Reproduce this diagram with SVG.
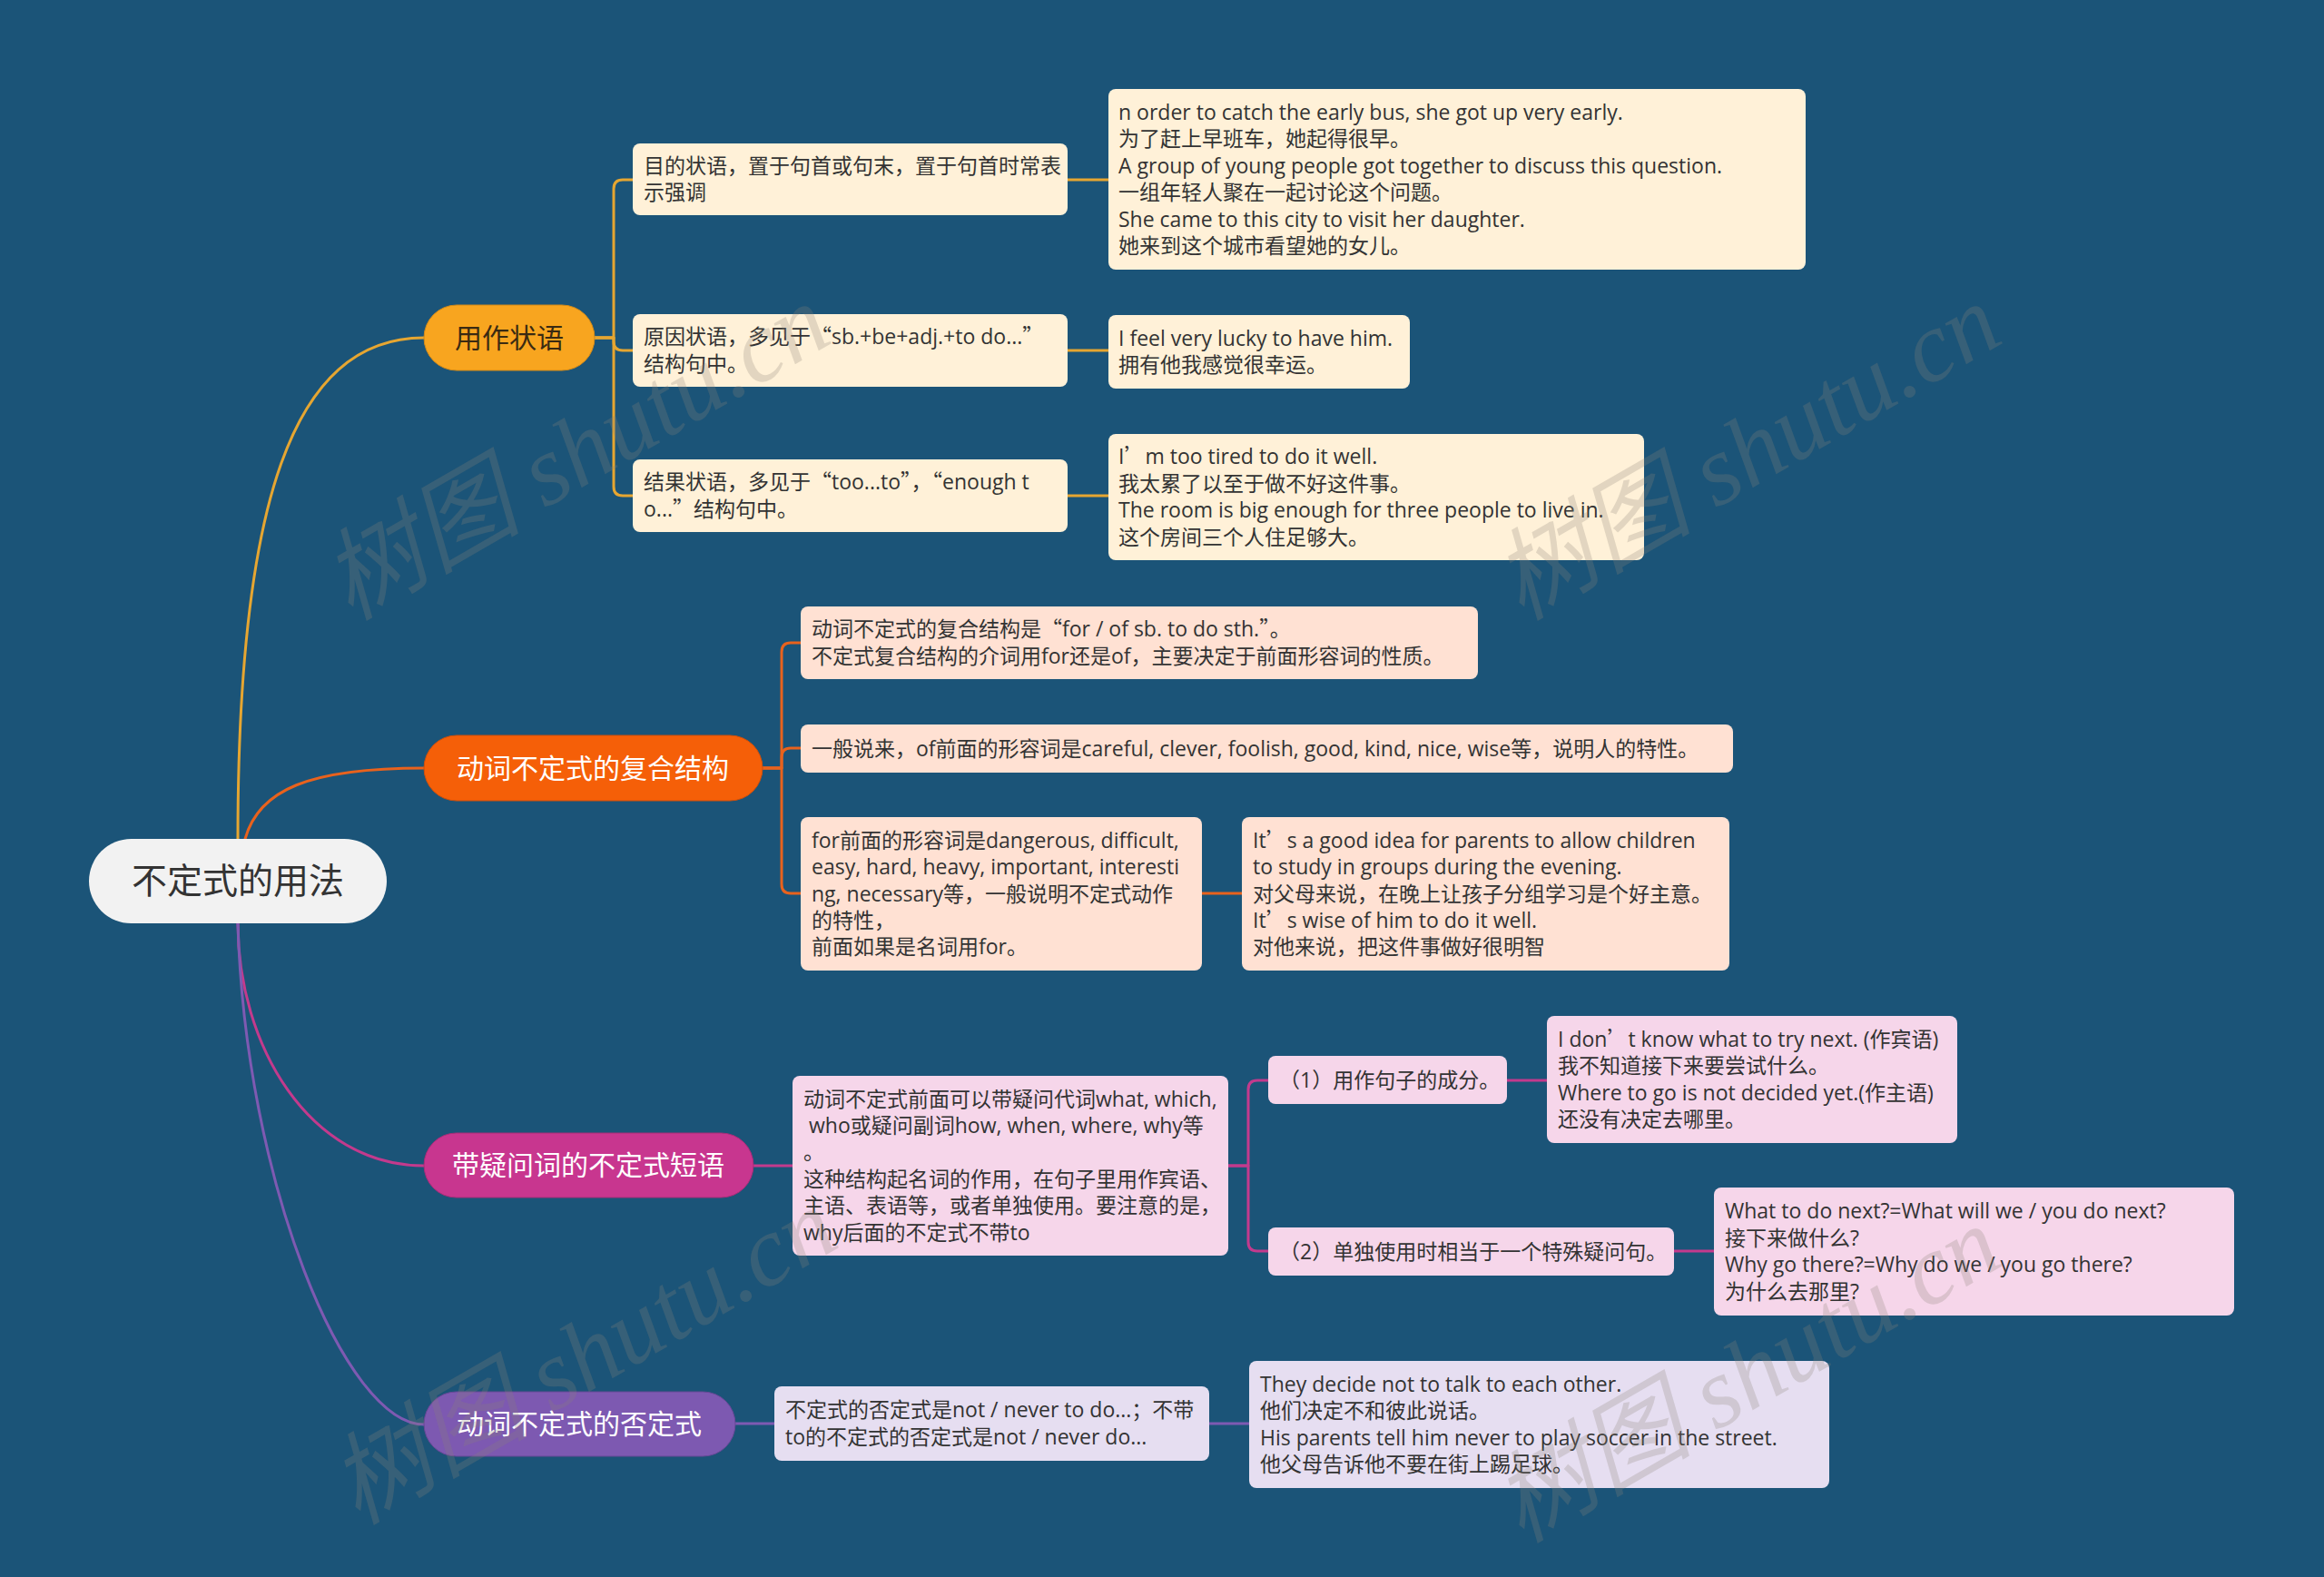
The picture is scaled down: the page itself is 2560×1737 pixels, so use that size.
<svg xmlns="http://www.w3.org/2000/svg" width="2560" height="1737" viewBox="0 0 2560 1737">
<style>
.t{font-family:"Open Sans","Noto Sans CJK SC",sans-serif;font-size:23px;fill:#333333}
.q{font-family:"Noto Sans CJK SC",sans-serif}
.b{font-family:"Open Sans","Noto Sans CJK SC",sans-serif;font-size:30px;text-anchor:middle}
.r{font-family:"Open Sans","Noto Sans CJK SC",sans-serif;font-size:39px;fill:#333333;text-anchor:middle}
.c{fill:none;stroke-width:3;stroke-linecap:round;stroke-linejoin:round}
.y{stroke:#e6a631}.o{stroke:#e8621d}.m{stroke:#c33a8d}.p{stroke:#7e5ab2}
.ny{fill:#fff1d8}.no{fill:#ffe1d3}.nm{fill:#f6d6ea}.np{fill:#e6def1}
.wm{font-family:"Liberation Serif","Noto Sans CJK SC",serif;font-style:italic;font-size:110px;fill:#8a8478;fill-opacity:0.25;text-anchor:middle}
</style>
<rect x="0" y="0" width="2560" height="1737" fill="#1b5478"/>
<g id="connectors">
<path class="c y" d="M 262 924 C 262 560 320 372 467 372"/>
<path class="c o" d="M 270 924 C 285 870 340 846 467 846"/>
<path class="c m" d="M 262 1017 C 262 1150 340 1284 467 1284"/>
<path class="c p" d="M 262 1017 C 270 1300 380 1569 467 1569"/>
<path class="c y" d="M 655 372 H 676 V 208 Q 676 198 686 198 H 697"/>
<path class="c y" d="M 655 372 H 676 V 376 Q 676 386 686 386 H 697"/>
<path class="c y" d="M 655 372 H 676 V 536 Q 676 546 686 546 H 697"/>
<path class="c y" d="M 1176 198 H 1221"/>
<path class="c y" d="M 1176 386 H 1221"/>
<path class="c y" d="M 1176 546 H 1221"/>
<path class="c o" d="M 840 846 H 861 V 718 Q 861 708 871 708 H 882"/>
<path class="c o" d="M 840 846 H 861 V 834 Q 861 824 871 824 H 882"/>
<path class="c o" d="M 840 846 H 861 V 974 Q 861 984 871 984 H 882"/>
<path class="c o" d="M 1324 984 H 1368"/>
<path class="c m" d="M 830 1284 H 873"/>
<path class="c m" d="M 1353 1284 H 1375 V 1200 Q 1375 1190 1385 1190 H 1397"/>
<path class="c m" d="M 1353 1284 H 1375 V 1368 Q 1375 1378 1385 1378 H 1397"/>
<path class="c m" d="M 1660 1190 H 1704"/>
<path class="c m" d="M 1844 1378 H 1888"/>
<path class="c p" d="M 810 1568 H 853"/>
<path class="c p" d="M 1332 1568 H 1376"/>
</g>
<g id="root">
<rect x="98" y="924" width="328" height="93" rx="46.5" fill="#f2f2f2"/>
<text class="r" x="262" y="984">不定式的用法</text>
</g>
<g id="b1">
<rect x="467" y="336" width="188" height="72" rx="36" fill="#f8a51f" stroke="#d48a17" stroke-width="1"/>
<text class="b" x="561" y="383" fill="#3a2a12">用作状语</text>
</g>
<g id="b2">
<rect x="467" y="810" width="373" height="72" rx="36" fill="#f55f08" stroke="#d04f0a" stroke-width="1"/>
<text class="b" x="653" y="857" fill="#ffffff">动词不定式的复合结构</text>
</g>
<g id="b3">
<rect x="467" y="1248" width="363" height="71" rx="35.5" fill="#c8368f" stroke="#a82c78" stroke-width="1"/>
<text class="b" x="648" y="1294" fill="#ffffff">带疑问词的不定式短语</text>
</g>
<g id="b4">
<rect x="467" y="1533" width="343" height="71" rx="35.5" fill="#7d59b1" stroke="#684897" stroke-width="1"/>
<text class="b" x="638" y="1579" fill="#ffffff">动词不定式的否定式</text>
</g>
<g id="a1">
<rect class="ny" x="697" y="158" width="479" height="79" rx="8"/>
<text class="t" x="709" y="191">目的状语，置于句首或句末，置于句首时常表</text>
<text class="t" x="709" y="220.4">示强调</text>
</g>
<g id="a2">
<rect class="ny" x="697" y="346" width="479" height="80" rx="8"/>
<text class="t" x="709" y="379.3">原因状语，多见于<tspan class="q">“</tspan>sb.+be+adj.+to do...<tspan class="q">”</tspan></text>
<text class="t" x="709" y="408.7">结构句中。</text>
</g>
<g id="a3">
<rect class="ny" x="697" y="506" width="479" height="80" rx="8"/>
<text class="t" x="709" y="539.3">结果状语，多见于<tspan class="q">“</tspan>too...to<tspan class="q">”</tspan>，<tspan class="q">“</tspan>enough t</text>
<text class="t" x="709" y="568.7">o...<tspan class="q">”</tspan>结构句中。</text>
</g>
<g id="a1x">
<rect class="ny" x="1221" y="98" width="768" height="199" rx="8"/>
<text class="t" x="1232" y="132">n order to catch the early bus, she got up very early.</text>
<text class="t" x="1232" y="161.4">为了赶上早班车，她起得很早。</text>
<text class="t" x="1232" y="190.8">A group of young people got together to discuss this question.</text>
<text class="t" x="1232" y="220.2">一组年轻人聚在一起讨论这个问题。</text>
<text class="t" x="1232" y="249.6">She came to this city to visit her daughter.</text>
<text class="t" x="1232" y="279">她来到这个城市看望她的女儿。</text>
</g>
<g id="a2x">
<rect class="ny" x="1221" y="347" width="332" height="81" rx="8"/>
<text class="t" x="1232" y="380.8">I feel very lucky to have him.</text>
<text class="t" x="1232" y="410.2">拥有他我感觉很幸运。</text>
</g>
<g id="a3x">
<rect class="ny" x="1221" y="478" width="590" height="139" rx="8"/>
<text class="t" x="1232" y="511.4">I<tspan class="q">’</tspan>m too tired to do it well.</text>
<text class="t" x="1232" y="540.8">我太累了以至于做不好这件事。</text>
<text class="t" x="1232" y="570.2">The room is big enough for three people to live in.</text>
<text class="t" x="1232" y="599.6">这个房间三个人住足够大。</text>
</g>
<g id="c1">
<rect class="no" x="882" y="668" width="746" height="80" rx="8"/>
<text class="t" x="894" y="701.3">动词不定式的复合结构是<tspan class="q">“</tspan>for / of sb. to do sth.<tspan class="q">”</tspan>。</text>
<text class="t" x="894" y="730.7">不定式复合结构的介词用for还是of，主要决定于前面形容词的性质。</text>
</g>
<g id="c2">
<rect class="no" x="882" y="798" width="1027" height="53" rx="8"/>
<text class="t" x="894" y="832.5">一般说来，of前面的形容词是careful, clever, foolish, good, kind, nice, wise等，说明人的特性。</text>
</g>
<g id="c3">
<rect class="no" x="882" y="900" width="442" height="169" rx="8"/>
<text class="t" x="894" y="933.7">for前面的形容词是dangerous, difficult,</text>
<text class="t" x="894" y="963.1">easy, hard, heavy, important, interesti</text>
<text class="t" x="894" y="992.5">ng, necessary等，一般说明不定式动作</text>
<text class="t" x="894" y="1021.9">的特性，</text>
<text class="t" x="894" y="1051.3">前面如果是名词用for。</text>
</g>
<g id="c4">
<rect class="no" x="1368" y="900" width="537" height="169" rx="8"/>
<text class="t" x="1380" y="933.7">It<tspan class="q">’</tspan>s a good idea for parents to allow children</text>
<text class="t" x="1380" y="963.1">to study in groups during the evening.</text>
<text class="t" x="1380" y="992.5">对父母来说，在晚上让孩子分组学习是个好主意。</text>
<text class="t" x="1380" y="1021.9">It<tspan class="q">’</tspan>s wise of him to do it well.</text>
<text class="t" x="1380" y="1051.3">对他来说，把这件事做好很明智</text>
</g>
<g id="d1">
<rect class="nm" x="873" y="1185" width="480" height="198" rx="8"/>
<text class="t" x="885" y="1218.5">动词不定式前面可以带疑问代词what, which,</text>
<text class="t" x="891" y="1247.9">who或疑问副词how, when, where, why等</text>
<text class="t" x="885" y="1277.3">。</text>
<text class="t" x="885" y="1306.7">这种结构起名词的作用，在句子里用作宾语、</text>
<text class="t" x="885" y="1336.1">主语、表语等，或者单独使用。要注意的是，</text>
<text class="t" x="885" y="1365.5">why后面的不定式不带to</text>
</g>
<g id="d2">
<rect class="nm" x="1397" y="1163" width="263" height="53" rx="8"/>
<text class="t" x="1409" y="1197.5">（1）用作句子的成分。</text>
</g>
<g id="d3">
<rect class="nm" x="1704" y="1119" width="452" height="140" rx="8"/>
<text class="t" x="1716" y="1152.9">I don<tspan class="q">’</tspan>t know what to try next. (作宾语)</text>
<text class="t" x="1716" y="1182.3">我不知道接下来要尝试什么。</text>
<text class="t" x="1716" y="1211.7">Where to go is not decided yet.(作主语)</text>
<text class="t" x="1716" y="1241.1">还没有决定去哪里。</text>
</g>
<g id="d4">
<rect class="nm" x="1397" y="1352" width="447" height="53" rx="8"/>
<text class="t" x="1409" y="1386.5">（2）单独使用时相当于一个特殊疑问句。</text>
</g>
<g id="d5">
<rect class="nm" x="1888" y="1308" width="573" height="141" rx="8"/>
<text class="t" x="1900" y="1342.4">What to do next?=What will we / you do next?</text>
<text class="t" x="1900" y="1371.8">接下来做什么?</text>
<text class="t" x="1900" y="1401.2">Why go there?=Why do we / you go there?</text>
<text class="t" x="1900" y="1430.6">为什么去那里?</text>
</g>
<g id="e1">
<rect class="np" x="853" y="1527" width="479" height="82" rx="8"/>
<text class="t" x="865" y="1561.3">不定式的否定式是not / never to do...；不带</text>
<text class="t" x="865" y="1590.7">to的不定式的否定式是not / never do...</text>
</g>
<g id="e2">
<rect class="np" x="1376" y="1499" width="639" height="140" rx="8"/>
<text class="t" x="1388" y="1532.9">They decide not to talk to each other.</text>
<text class="t" x="1388" y="1562.3">他们决定不和彼此说话。</text>
<text class="t" x="1388" y="1591.7">His parents tell him never to play soccer in the street.</text>
<text class="t" x="1388" y="1621.1">他父母告诉他不要在街上踢足球。</text>
</g>
<g id="watermark">
<text class="wm" transform="translate(653 530) rotate(-30)">树图 shutu.cn</text>
<text class="wm" transform="translate(1943 530) rotate(-30)">树图 shutu.cn</text>
<text class="wm" transform="translate(661 1526) rotate(-30)">树图 shutu.cn</text>
<text class="wm" transform="translate(1943 1546) rotate(-30)">树图 shutu.cn</text>
</g>
</svg>
